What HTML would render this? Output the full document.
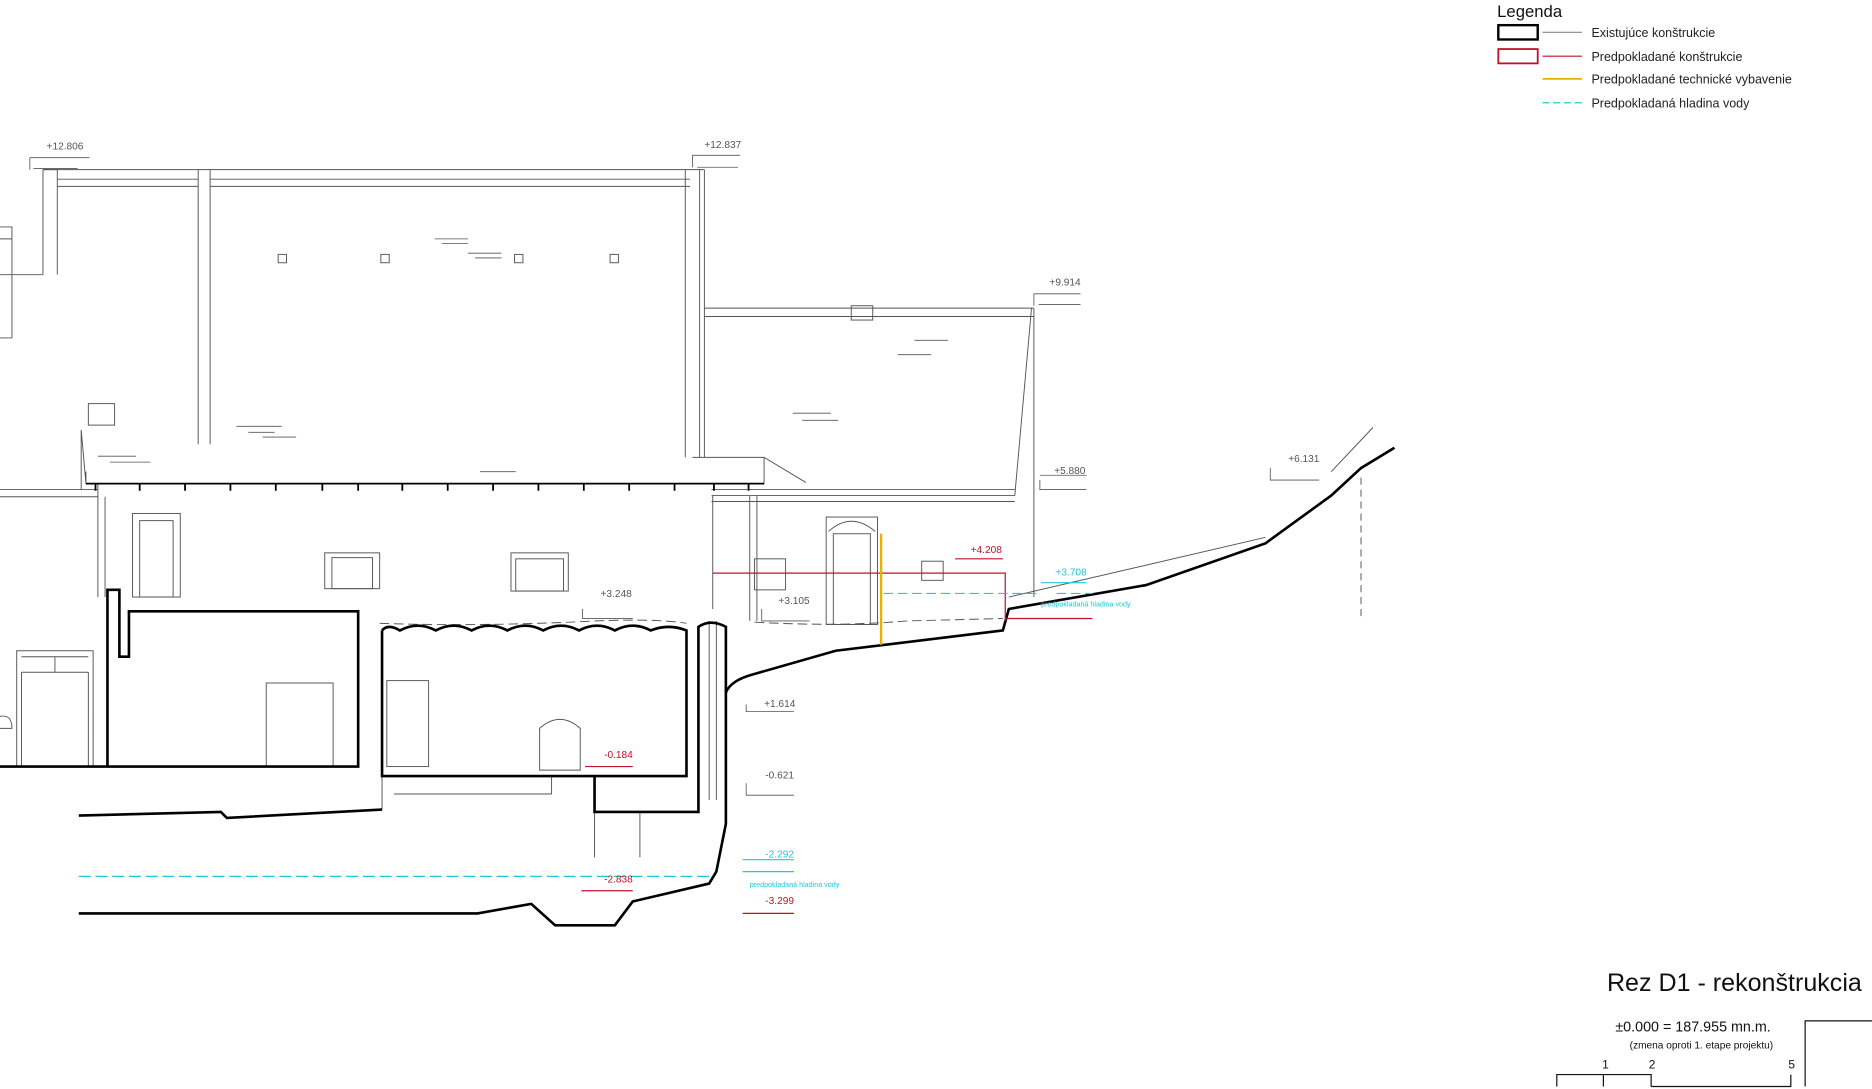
<!DOCTYPE html>
<html><head><meta charset="utf-8"><style>
html,body{margin:0;padding:0;background:#fff;}
svg{display:block;}
text{font-family:"Liberation Sans",sans-serif;}
</style></head><body>
<svg width="1872" height="1089" viewBox="0 0 1568 912" xmlns="http://www.w3.org/2000/svg">
<rect width="1568" height="912" fill="#fff"/>
<text x="1254" y="14" font-size="14" fill="#111">Legenda</text>
<rect x="1255" y="21" width="33" height="12" fill="none" stroke="#000" stroke-width="2"/>
<line x1="1292" y1="27" x2="1325" y2="27" stroke="#888"/>
<text x="1333" y="31" font-size="10.5" fill="#222">Existujúce konštrukcie</text>
<rect x="1255" y="41" width="33" height="12" fill="none" stroke="#c0102a" stroke-width="1.5"/>
<line x1="1292" y1="47" x2="1325" y2="47" stroke="#c0102a"/>
<text x="1333" y="51" font-size="10.5" fill="#222">Predpokladané konštrukcie</text>
<line x1="1292" y1="66" x2="1325" y2="66" stroke="#e8b000" stroke-width="1.5"/>
<text x="1333" y="70" font-size="10.5" fill="#222">Predpokladané technické vybavenie</text>
<line x1="1292" y1="86" x2="1325" y2="86" stroke="#20c8d8" stroke-dasharray="6,3"/>
<text x="1333" y="90" font-size="10.5" fill="#222">Predpokladaná hladina vody</text>

<g fill="none" stroke="#555" stroke-width="0.8">
<path d="M36 142 V230 M48 142 V230 M36 142 H48 M0 190 H10 V230 H36 M0 200 H10 M0 230 H10 V283 M0 283 H10"/>
<path d="M36 142 H590 M48 150 H166 M176 150 H578 M48 156 H166 M176 156 H578"/>
<path d="M166 142 V372 M176 142 V372 M574 142 V383 M586 142 V383"/>
<path d="M590 142 V383"/>
<path d="M68 360 L72 405 H640 M72 405 V395 M68 360 V410 M580 383 H640 L675 404 M640 383 V405"/>
<path d="M0 410 H82 M0 416 H82 M82 405 V500 M88 416 V500"/>
<path d="M590 258 H866 M590 265 H866 M864 258 L850 415 M866 258 V500 M596 410 H850 M596 415 H850 M596 420 H850 M597 415 V510 M628 415 V520 M634 415 V520"/>
<rect x="713" y="256" width="18" height="12"/>
<rect x="74" y="338" width="22" height="18"/>
<rect x="111" y="430" width="40" height="70"/><rect x="117" y="436" width="28" height="64"/>
<rect x="272" y="463" width="46" height="30"/><rect x="278" y="467" width="34" height="26"/>
<rect x="428" y="463" width="48" height="32"/><rect x="432" y="468" width="40" height="27"/>
<rect x="632" y="468" width="26" height="26"/>
<rect x="772" y="470" width="18" height="16"/>
<rect x="692" y="433" width="43" height="90"/><rect x="698" y="447" width="31" height="76"/>
<path d="M694 445 Q713 428 733 445"/>
<rect x="233" y="213" width="7" height="7"/><rect x="319" y="213" width="7" height="7"/><rect x="431" y="213" width="7" height="7"/><rect x="511" y="213" width="7" height="7"/>
<rect x="223" y="572" width="56" height="70"/>
<rect x="324" y="570" width="35" height="72"/>
<path d="M452 645 V610 Q469 595 486 610 V645 Z"/>
<rect x="14" y="545" width="64" height="97"/><path d="M18 550 H74 M18 563 H74 M46 550 V563 M18 563 V642 M74 563 V642 M0 600 Q10 598 10 610 H0"/>
<path d="M320 650 V678 M462 650 V665 M498 680 V718 M536 680 V718 M600 520 V670 M594 520 V670"/>
<path d="M320 650 H462 M330 665 H462"/>
<path d="M845 500 L1060 450 M1115 395 L1150 358"/>
<path d="M1140 400 V520" stroke-dasharray="6,4"/>
<path d="M632 521 Q700 525 760 520 L840 518" stroke-dasharray="8,4"/>
<path d="M318 522 Q400 525 500 520 Q550 518 575 522" stroke-dasharray="8,4"/>
</g>
<g stroke="#000" stroke-width="1.5">
<path d="M72 405 H640"/>
<path d="M80 405v6M117 405v6M155 405v6M193 405v6M231 405v6M270 405v6M300 405v6M337 405v6M375 405v6M413 405v6M451 405v6M489 405v6M527 405v6M565 405v6M598 405v6M627 405v6"/>
</g>
<g stroke="#555" stroke-width="0.7">
<path d="M364 200h28M370 204h22M392 212h28M398 216h22M198 357h38M208 362h22M220 366h28M82 382h32M92 387h34M402 395h30M766 285h28M752 297h28M664 346h32M672 352h30"/>
</g>
<g fill="none" stroke="#000" stroke-width="2.2">
<path d="M0 642 H300 V512 H108 V550 H100 V494 H90 V642"/>
<path d="M320 528 V650 H575 V528 Q560 522 545 528 Q530 520 515 528 Q500 520 485 528 Q470 520 455 528 Q440 520 425 528 Q410 520 395 528 Q380 520 365 528 Q350 520 335 528 Q325 522 320 528"/>
<path d="M498 650 V680 H585 V525 Q595 518 608 525 V580 Q612 570 630 565 L700 545 L840 528 L845 510 L960 490 L1060 455 L1115 415 L1140 392 L1168 375"/>
<path d="M608 580 V690 L600 730 L594 740 L530 755 L515 775 H465 L445 757 L400 765 H66"/>
<path d="M66 683 L185 680 L190 685 L320 678"/>
</g>
<g fill="none" stroke="#c0102a" stroke-width="1">
<path d="M597 480 H842 V520 M842 518 H915 M800 468 H840"/>
</g>
<line x1="738" y1="447" x2="738" y2="540" stroke="#e8b000" stroke-width="2"/>
<g stroke="#20c8d8" fill="none">
<path d="M740 497 H870 M885 497 H915" stroke-dasharray="8,4"/>
<path d="M66 734 H594" stroke-dasharray="10,4"/>
<path d="M622 720 H665 M622 730 H665"/>
</g>
<g font-size="8.5" fill="#555">
<g stroke="#555" fill="none" stroke-width="0.7"><path d="M25 132 V142 M25 132 H75 M28 141 H65"/><path d="M580 130 V140 M580 130 H620 M584 140 H618"/><path d="M866 246 V256 M866 246 H905 M870 255 H905"/><path d="M871 402 V410 H910 M871 398 H910"/><path d="M1064 392 V402 H1105"/><path d="M638 510 V520 H678"/><path d="M625 590 V596 H665"/><path d="M625 656 V666 H665"/><path d="M488 510 V518 H530"/></g>
<text x="39" y="125">+12.806</text>
<text x="590" y="124">+12.837</text>
<text x="879" y="239">+9.914</text>
<text x="883" y="397">+5.880</text>
<text x="1079" y="387">+6.131</text>
<text x="503" y="500">+3.248</text>
<text x="652" y="506">+3.105</text>
<text x="640" y="592">+1.614</text>
<text x="641" y="652">-0.621</text>
</g>
<g font-size="8.5" fill="#c0102a">
<text x="813" y="463">+4.208</text>
<text x="506" y="635">-0.184</text><path d="M490 642 H530" stroke="#c0102a"/>
<text x="506" y="739">-2.838</text><path d="M487 746 H530" stroke="#c0102a"/>
<text x="641" y="757">-3.299</text><path d="M622 765 H665" stroke="#c0102a"/>
</g>
<g font-size="8.5" fill="#20c8d8">
<text x="884" y="482">+3.708</text><path d="M872 488 H910" stroke="#20c8d8"/>
<text x="872" y="508" font-size="6">predpokladaná hladina vody</text>
<text x="641" y="718">-2.292</text>
<text x="628" y="743" font-size="6">predpokladaná hladina vody</text>
</g>
<text x="1346" y="830" font-size="21" fill="#111">Rez D1 - rekonštrukcia</text>
<text x="1353" y="864" font-size="12" fill="#111">±0.000 = 187.955 mn.m.</text>
<text x="1365" y="878" font-size="8.5" fill="#111">(zmena oproti 1. etape projektu)</text>
<text x="1342" y="895" font-size="10" fill="#111">1</text>
<text x="1381" y="895" font-size="10" fill="#111">2</text>
<text x="1498" y="895" font-size="10" fill="#111">5</text>
<path d="M1304 910 V900 H1343 V910 M1343 900 H1383 V910 M1383 910 H1500 V900" fill="none" stroke="#111"/>
<path d="M1512 910 V855 H1568" fill="none" stroke="#111"/>
</svg>
</body></html>
